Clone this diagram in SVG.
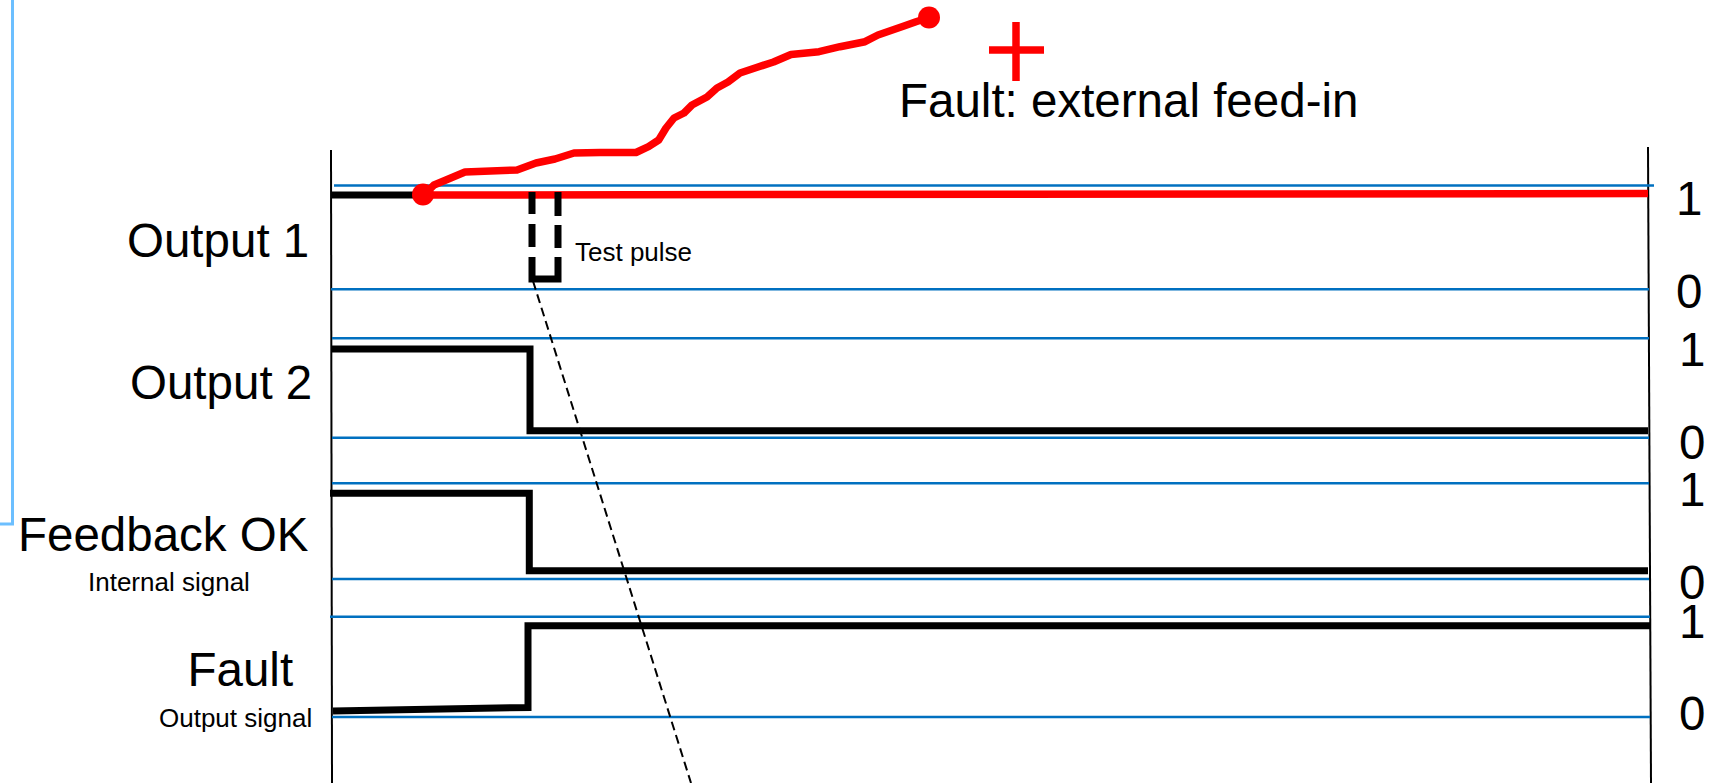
<svg xmlns="http://www.w3.org/2000/svg" width="1724" height="783" viewBox="0 0 1724 783">
<style>
.lbl{font-family:"Liberation Sans",Arial,sans-serif;font-size:47.5px;fill:#000}
.sm{font-family:"Liberation Sans",Arial,sans-serif;font-size:26px;fill:#000}
.grid{stroke:#0070c0;stroke-width:2.5;fill:none}
.sig{stroke:#000;stroke-width:7;fill:none;stroke-linejoin:miter}
.red{stroke:#ff0000;stroke-width:7.5;fill:none;stroke-linejoin:round;stroke-linecap:round}
.axis{stroke:#000;stroke-width:2;fill:none}
</style>
<rect width="1724" height="783" fill="#fff"/>
<path d="M12.5,0 V524 H0" stroke="#6cbfff" stroke-width="3" fill="none"/>
<g id="axes">
<line class="axis" x1="331" y1="150" x2="332" y2="783"/>
<line class="axis" x1="1648" y1="147" x2="1651" y2="783"/>
</g>
<g id="grid">
<line class="grid" x1="334" y1="185.5" x2="1654" y2="185.5"/>
<line class="grid" x1="331" y1="289.3" x2="1649" y2="289.3"/>
<line class="grid" x1="332" y1="338.3" x2="1649" y2="338.3"/>
<line class="grid" x1="332" y1="437.7" x2="1649" y2="437.7"/>
<line class="grid" x1="332" y1="483.3" x2="1649" y2="483.3"/>
<line class="grid" x1="332" y1="579" x2="1649" y2="579"/>
<line class="grid" x1="330" y1="616.7" x2="1650" y2="616.7"/>
<line class="grid" x1="332" y1="717" x2="1650" y2="717"/>
</g>
<g id="output1">
<text class="lbl" x="127" y="257">Output 1</text>
<line class="sig" x1="332" y1="195" x2="423" y2="195"/>
<line x1="423" y1="195" x2="1648" y2="193.5" stroke="#ff0000" stroke-width="7.5"/>
</g>
<g id="test-pulse">
<g class="sig">
<line x1="532" y1="192" x2="532" y2="214"/>
<line x1="532" y1="224" x2="532" y2="247"/>
<path d="M532,257 V279 H558 V257"/>
<line x1="558" y1="225" x2="558" y2="248"/>
<line x1="558" y1="192" x2="558" y2="216"/>
</g>
<text class="sm" x="575" y="261">Test pulse</text>
</g>
<g id="feed-in">
<path class="red" d="M423.6,195 L434,185 L446,180 L465,172 L517,170 L536,163 L555,159 L574,153 L600,152.5 L636,152.5 L648.5,146.7 L658.7,140 L666,128 L674,118 L684,113 L692,105 L707,97 L717,88 L728,82 L740,73 L758,67 L773.5,62 L791,54.5 L819,51.7 L840,46.7 L865,41.7 L878,35 L904,26 L916,21.7 L929,17.5"/>
<circle cx="423" cy="194.5" r="11" fill="#ff0000"/>
<circle cx="929" cy="17.5" r="11" fill="#ff0000"/>
<g stroke="#ff0000" stroke-width="7.5">
<line x1="1016" y1="22" x2="1016" y2="81"/>
<line x1="989" y1="50" x2="1044" y2="50"/>
</g>
<text class="lbl" x="899" y="117">Fault: external feed-in</text>
</g>
<g id="output2">
<text class="lbl" x="130" y="399">Output 2</text>
<path class="sig" d="M332,349 H530 V430.7 H1648"/>
</g>
<g id="feedback-ok">
<text class="lbl" x="18" y="550.7">Feedback OK</text>
<text class="sm" x="88" y="591">Internal signal</text>
<path class="sig" d="M330,493.3 H529.3 V570.7 H1648"/>
</g>
<g id="fault">
<text class="lbl" x="187.5" y="686">Fault</text>
<text class="sm" x="159" y="727">Output signal</text>
<path class="sig" d="M333,711 L528,707.5 V625.7 H1650"/>
</g>
<g id="levels">
<text class="lbl" x="1676" y="215">1</text>
<text class="lbl" x="1676" y="308">0</text>
<text class="lbl" x="1679" y="365.5">1</text>
<text class="lbl" x="1679" y="459">0</text>
<text class="lbl" x="1679" y="506">1</text>
<text class="lbl" x="1679" y="599">0</text>
<text class="lbl" x="1679" y="638">1</text>
<text class="lbl" x="1679" y="730">0</text>
</g>
<g id="connectors">
<line x1="533" y1="281" x2="691" y2="783" stroke="#000" stroke-width="2" stroke-dasharray="9 5"/>
</g>
</svg>
